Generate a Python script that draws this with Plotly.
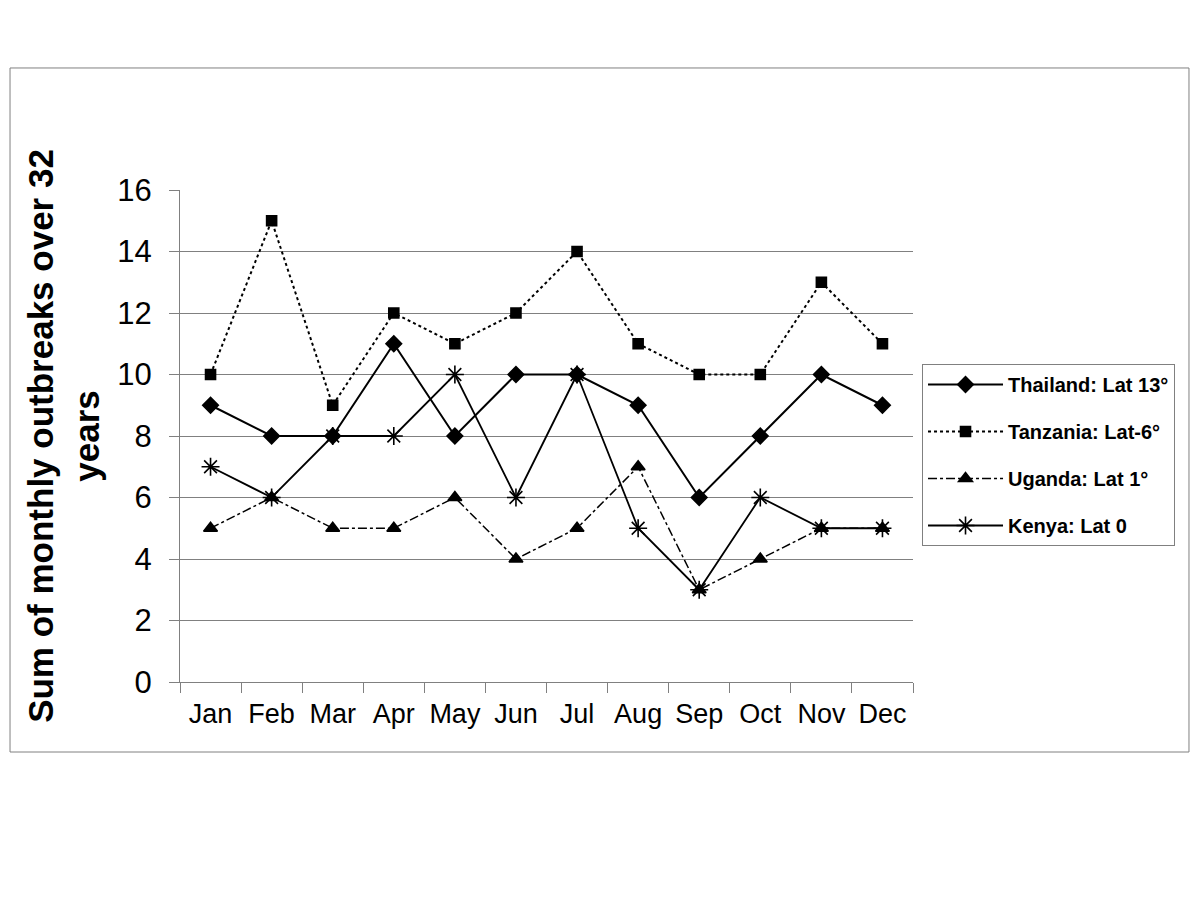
import plotly.graph_objects as go

## data
months = ["Jan", "Feb", "Mar", "Apr", "May", "Jun", "Jul", "Aug", "Sep", "Oct", "Nov", "Dec"]
thailand = [9, 8, 8, 11, 8, 10, 10, 9, 6, 8, 10, 9]
tanzania = [10, 15, 9, 12, 11, 12, 14, 11, 10, 10, 13, 11]
uganda = [5, 6, 5, 5, 6, 4, 5, 7, 3, 4, 5, 5]
kenya = [7, 6, 8, 8, 10, 6, 10, 5, 3, 6, 5, 5]

y_ticks = list(range(0, 17, 2))
grid_ticks = list(range(2, 15, 2))

grey = "#808080"
font = "Liberation Sans, Arial, sans-serif"

series = [
    ("Thailand: Lat 13°", thailand, "solid", "diamond", 12, 2),
    ("Tanzania: Lat-6°", tanzania, "dot", "square", 10, 2),
    ("Uganda: Lat 1°", uganda, "dashdot", "triangle-up", 12, 1.5),
    ("Kenya: Lat 0", kenya, "solid", "asterisk-open", 15, 1.8),
]

fig = go.Figure()

# helper trace so gridlines (2..14) come from a second overlaid axis, none at 16
fig.add_trace(go.Scatter(x=months, y=[None] * len(months), yaxis="y2",
                         showlegend=False, hoverinfo="skip"))

for i, (name, vals, dash, sym, size, lw) in enumerate(series):
    fig.add_trace(go.Scatter(
        x=months, y=vals, name=name, mode="lines+markers", legendgroup=f"g{i}",
        line=dict(color="black", width=lw, dash=dash),
        marker=dict(symbol=sym, size=size, color="black",
                    line=dict(color="black", width=1.6)),
    ))

fig.update_layout(
    width=1200, height=900,
    paper_bgcolor="white", plot_bgcolor="white",
    margin=dict(l=172, r=295, t=182, b=226),
    font=dict(family=font, color="black"),
    xaxis=dict(
        type="category", categoryorder="array", categoryarray=months,
        tickson="boundaries", ticks="outside", ticklen=10, tickcolor=grey,
        showline=True, linecolor=grey, linewidth=1, showgrid=False,
        tickfont=dict(size=27), range=[-0.5, 11.5], ticklabelstandoff=8,
    ),
    yaxis=dict(
        range=[0, 16], tickvals=y_ticks, ticks="outside", ticklen=10,
        tickcolor=grey, showline=True, linecolor=grey, linewidth=1,
        showgrid=False, zeroline=False, tickfont=dict(size=31),
        ticklabelstandoff=11,
        title=dict(text="Sum of monthly outbreaks over 32<br>years",
                   font=dict(size=35, family=font, weight="bold"), standoff=7),
    ),
    yaxis2=dict(
        overlaying="y", range=[0, 16], tickvals=grid_ticks, showticklabels=False,
        showgrid=True, gridcolor=grey, gridwidth=1, zeroline=False, ticks="",
    ),
    legend=dict(
        x=1.0123, y=0.6463, xanchor="left", yanchor="top",
        bordercolor=grey, borderwidth=1, bgcolor="white",
        font=dict(size=20, family=font, weight="bold"),
        tracegroupgap=18, traceorder="grouped", itemwidth=75,
    ),
    showlegend=True,
)

# outer frame round the whole chart
fig.add_shape(type="rect", xref="paper", yref="paper",
              x0=-0.2319, x1=1.3765, y0=-0.1423, y1=1.248,
              line=dict(color=grey, width=1), layer="below")

fig.write_html("out.html")
